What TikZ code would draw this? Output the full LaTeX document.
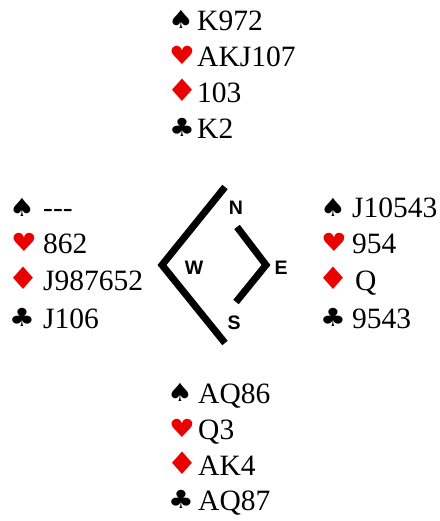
\documentclass[tikz,border=0pt]{standalone}
\usepackage{fontspec}
\setmainfont{Liberation Serif}
\newfontfamily\suitfont[FakeStretch=1.15]{DejaVu Sans}
\newfontfamily\compfont{Liberation Sans}
\definecolor{suitred}{RGB}{235,0,0}
\begin{document}
\begin{tikzpicture}[x=1pt,y=-1pt,
  card/.style={anchor=base west,inner sep=0pt,font=\fontsize{29.5}{35}\selectfont},
  suitblk/.style={anchor=base,inner sep=0pt,font=\suitfont\fontsize{25}{30}\selectfont,text=black},
  suitred/.style={anchor=base,inner sep=0pt,font=\suitfont\fontsize{25}{30}\selectfont,text=suitred},
  suitdia/.style={anchor=base,inner sep=0pt,font=\suitfont\fontsize{31}{36}\selectfont,text=suitred},
  seat/.style={inner sep=0pt,font=\compfont\bfseries\fontsize{19.5}{22}\selectfont},
  wall/.style={line width=7pt,line join=miter,line cap=butt}]
\useasboundingbox (0,0) rectangle (439,521);
% North
\node[suitblk] (ns) at (181,29) {♠};
\node[card] (nst) at (197,31) {K972};
\node[suitred] (nh) at (182,65) {♥};
\node[card] (nht) at (197,67) {AKJ107};
\node[suitdia] (nd) at (182,102) {♦};
\node[card] (ndt) at (197,103) {103};
\node[suitblk] (nc) at (182,137) {♣};
\node[card] (nct) at (197,139) {K2};
% West
\node[suitblk] (ws) at (22,216) {♠};
\node[card] (wst) at (43,218) {-{}-{}-};
\node[suitred] (wh) at (24,251) {♥};
\node[card] (wht) at (43,253) {862};
\node[suitdia] (wd) at (23,289) {♦};
\node[card] (wdt) at (43,290) {J987652};
\node[suitblk] (wc) at (22,326) {♣};
\node[card] (wct) at (43,328) {J106};
% East
\node[suitblk] (es) at (333,216) {♠};
\node[card] (est) at (352,218) {J10543};
\node[suitred] (eh) at (334,251) {♥};
\node[card] (eht) at (352,253) {954};
\node[suitdia] (ed) at (333,289) {♦};
\node[card] (edt) at (355,290) {Q};
\node[suitblk] (ec) at (333,326) {♣};
\node[card] (ect) at (352,328) {9543};
% South
\node[suitblk] (ss) at (180,401) {♠};
\node[card] (sst) at (198,403) {AQ86};
\node[suitred] (sh) at (182,437) {♥};
\node[card] (sht) at (198,439) {Q3};
\node[suitdia] (sd) at (182,474) {♦};
\node[card] (sdt) at (198,475) {AK4};
\node[suitblk] (sc) at (181,508) {♣};
\node[card] (sct) at (198,510) {AQ87};
% compass
\coordinate (lt) at (225,187);
\coordinate (lc) at (162,265);
\coordinate (lb) at (225,343);
\coordinate (rt) at (237,227);
\coordinate (rc) at (266,265);
\coordinate (rb) at (236,302);
\draw[wall] (lt) -- (lc) -- (lb);
\draw[wall] (rt) -- (rc) -- (rb);
\node[seat] (N) at (236,208) {N};
\node[seat] (W) at (194,268) {W};
\node[seat] (E) at (281,268) {E};
\node[seat] (S) at (234,323) {S};
\end{tikzpicture}
\end{document}
